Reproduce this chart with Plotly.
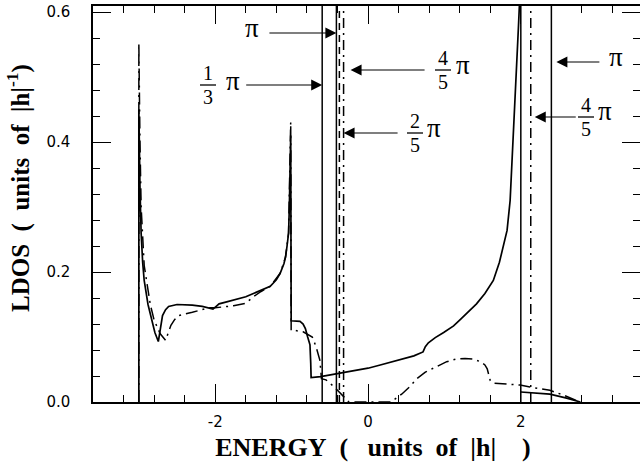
import plotly.graph_objects as go

# ---- local density of states, continuum part (energy in units of |h|) ----
energy_solid = [-3.0, -3.0, -2.985, -2.97, -2.95, -2.93, -2.88, -2.83, -2.79, -2.745,
                -2.72, -2.69, -2.65, -2.61, -2.5, -2.43, -2.3, -2.17, -2.08, -2.03,
                -1.98, -1.95, -1.85, -1.73, -1.6, -1.5, -1.4, -1.28, -1.2, -1.15,
                -1.1, -1.08, -1.06, -1.04, -1.03, -1.02, -1.012, -1.006, -0.95, -0.89,
                -0.85, -0.82, -0.79, -0.76, -0.75, -0.745, -0.62, -0.3, 0.0, 0.16,
                0.4, 0.6, 0.72, 0.75, 0.79, 0.88, 0.99, 1.12, 1.21, 1.34,
                1.42, 1.53, 1.64, 1.72, 1.78, 1.82, 1.86, 1.90, 1.93, 1.95,
                1.97, 1.985, None, 2.0, 2.38, 2.6, 2.78]
ldos_solid = [0.0, 0.45, 0.33, 0.26, 0.215, 0.187, 0.150, 0.125, 0.107, 0.093,
              0.115, 0.133, 0.142, 0.147, 0.150, 0.150, 0.149, 0.147, 0.145, 0.143,
              0.148, 0.151, 0.154, 0.158, 0.162, 0.167, 0.172, 0.178, 0.188, 0.198,
              0.213, 0.223, 0.240, 0.260, 0.300, 0.360, 0.410, 0.125, 0.125, 0.124,
              0.120, 0.113, 0.100, 0.088, 0.060, 0.0375, 0.039, 0.046, 0.052, 0.057,
              0.065, 0.071, 0.077, 0.085, 0.091, 0.099, 0.107, 0.117, 0.127, 0.141,
              0.151, 0.167, 0.187, 0.215, 0.245, 0.264, 0.310, 0.400, 0.470, 0.526,
              0.580, 0.620, None, 0.0154, 0.012, 0.006, 0.0]

energy_dashdot = [-3.0, -3.0, -2.985, -2.97, -2.93, -2.89, -2.85, -2.80, -2.72, -2.65,
                  -2.62, -2.58, -2.53, -2.48, -2.30, -2.15, -2.08, -2.0, -1.76, -1.6,
                  -1.5, -1.4, -1.28, -1.15, -1.08, -1.04, -1.02, -1.012, -1.006, -0.95,
                  -0.85, -0.78, -0.73, -0.68, -0.63, -0.61, -0.55, -0.45, -0.38, -0.3,
                  -0.25, 0.30, 0.44, 0.55, 0.64, 0.75, 0.90, 1.03, 1.15, 1.27,
                  1.38, 1.47, 1.53, 1.56, 1.58, 1.60, 1.64, 1.86, 1.99, 2.12,
                  2.38, 2.55, 2.71, 2.8]
ldos_dashdot = [0.0, 0.552, 0.40, 0.30, 0.21, 0.177, 0.150, 0.126, 0.105, 0.095,
                0.105, 0.118, 0.127, 0.133, 0.138, 0.143, 0.145, 0.145, 0.148, 0.152,
                0.162, 0.170, 0.178, 0.198, 0.223, 0.260, 0.360, 0.431, 0.110, 0.110,
                0.108, 0.103, 0.100, 0.085, 0.064, 0.036, 0.034, 0.024, 0.016, 0.006,
                0.0, 0.0, 0.012, 0.024, 0.036, 0.046, 0.055, 0.062, 0.066, 0.067,
                0.066, 0.062, 0.057, 0.051, 0.042, 0.033, 0.029, 0.027, 0.026, 0.023,
                0.018, 0.011, 0.003, 0.0]

# ---- bound states (delta peaks), drawn as vertical lines ----
bound_solid = [-0.60, -0.414, 2.0, 2.40]
bound_dashed = [-0.375]
bound_dashdot = [-0.32, 2.13]

# ---- axis ticks ----
x_tickvals = [-2, 0, 2]
x_ticktext = ["-2", "0", "2"]
y_tickvals = [0.0, 0.2, 0.4, 0.6]
y_ticktext = ["0.0", "0.2", "0.4", "0.6"]

# ---- plot-area geometry (pixels) ----
W, H = 640, 463
ML, MR, MT, MB = 93, 0, 6, 61
PW, PH = W - ML - MR, H - MT - MB
X_RANGE = [-3.6, 3.56]
Y_RANGE = [0.0, PH / 650.0]


def px_x(px):
    return (px - ML) / PW


def px_y(py):
    return (H - MB - py) / PH


def data_y(py):
    return Y_RANGE[0] + (Y_RANGE[1] - Y_RANGE[0]) * px_y(py)


fig = go.Figure()
fig.add_trace(go.Scatter(x=energy_solid, y=ldos_solid, mode="lines",
                         line=dict(color="black", width=1.7), connectgaps=False,
                         showlegend=False))
fig.add_trace(go.Scatter(x=energy_dashdot, y=ldos_dashdot, mode="lines",
                         line=dict(color="black", width=1.5, dash="12px,5px,2px,5px"),
                         showlegend=False))

for e in bound_solid:
    fig.add_vline(x=e, line=dict(color="black", width=1.5))
for e in bound_dashed:
    fig.add_vline(x=e, line=dict(color="black", width=1.5, dash="7px,5px"))
for e in bound_dashdot:
    fig.add_vline(x=e, line=dict(color="black", width=1.5, dash="10px,5px,2px,5px"))

SERIF = "Liberation Serif"
FRAC = dict(family=SERIF, size=20, color="black")
PI = dict(family=SERIF, size=27, color="black")


def text_at(txt, px, py, font, angle=0):
    fig.add_annotation(text=txt, x=px_x(px), y=px_y(py), xref="paper", yref="paper",
                       showarrow=False, xanchor="center", yanchor="middle", font=font,
                       textangle=angle)


def fraction(num, den, cx, cy, halfw=8):
    text_at(num, cx, cy - 12, FRAC)
    text_at(den, cx, cy + 12, FRAC)
    fig.add_shape(type="line", xref="paper", yref="paper",
                  x0=px_x(cx - halfw), x1=px_x(cx + halfw), y0=px_y(cy), y1=px_y(cy),
                  line=dict(color="black", width=1.3))


def arrow(e_line, py, tail_dx, gap=0):
    fig.add_annotation(text="\u00a0", x=e_line, y=data_y(py), xref="x", yref="y",
                       ax=tail_dx, ay=0, axref="pixel", ayref="pixel",
                       font=dict(size=2), borderpad=0,
                       showarrow=True, arrowhead=2, arrowsize=2.0, arrowwidth=1.1,
                       arrowcolor="black", standoff=0, xshift=gap)


# labels on the bound states
text_at("π", 252, 28, PI)
arrow(bound_solid[1], 33, -68)

fraction("1", "3", 208, 85)
text_at("π", 233, 81, PI)
arrow(bound_solid[0], 85, -77)

fraction("4", "5", 443, 70)
text_at("π", 463, 65, PI)
arrow(bound_dashdot[0], 70, 75, gap=7)

fraction("2", "5", 415, 133)
text_at("π", 434, 128, PI)
arrow(bound_dashdot[0], 133, 55)

text_at("π", 616, 57, PI)
arrow(bound_solid[3], 62, 44, gap=5)

fraction("4", "5", 586, 117)
text_at("π", 605, 111, PI)
arrow(bound_dashdot[1], 117, 42, gap=4)

# axis titles (non-breaking spaces keep the wide word gaps)
nb = "\u00a0"
x_title = f"<b>{nb}{nb}ENERGY{nb}{nb}({nb}{nb}{nb}units{nb}{nb}of{nb}{nb}|h|{nb}{nb}{nb}{nb})</b>"
y_title = f"<b>LDOS{nb}{nb}({nb}{nb}units{nb}{nb}of{nb}{nb}|h|<sup>-1</sup>)</b>"
text_at(y_title, 19, 188, dict(family=SERIF, size=25, color="black"), angle=-90)

TICKFONT = dict(family="DejaVu Sans", size=15, color="black")
fig.update_xaxes(range=X_RANGE, tickmode="array", tickvals=x_tickvals, ticktext=x_ticktext,
                 ticks="inside", ticklen=18, tickwidth=1.2, tickcolor="black",
                 minor=dict(ticks="inside", tick0=0, dtick=0.4, ticklen=7, tickwidth=1.2,
                            tickcolor="black"),
                 showline=True, linecolor="black", linewidth=1.5, mirror="ticks",
                 showgrid=False, zeroline=False, tickfont=TICKFONT, ticklabelstandoff=5,
                 title=dict(text=x_title, font=dict(family=SERIF, size=26, color="black"),
                            standoff=8),
                 automargin=False)
fig.update_yaxes(range=Y_RANGE, tickmode="array", tickvals=y_tickvals, ticktext=y_ticktext,
                 ticks="inside", ticklen=18, tickwidth=1.2, tickcolor="black",
                 minor=dict(ticks="inside", tick0=0, dtick=0.04, ticklen=7, tickwidth=1.2,
                            tickcolor="black"),
                 showline=True, linecolor="black", linewidth=1.5, mirror="ticks",
                 showgrid=False, zeroline=False, tickfont=TICKFONT, ticklabelstandoff=18,
                 automargin=False)

fig.update_layout(width=W, height=H, margin=dict(l=ML, r=MR, t=MT, b=MB),
                  plot_bgcolor="white", paper_bgcolor="white", showlegend=False)

fig.write_html("out.html")
